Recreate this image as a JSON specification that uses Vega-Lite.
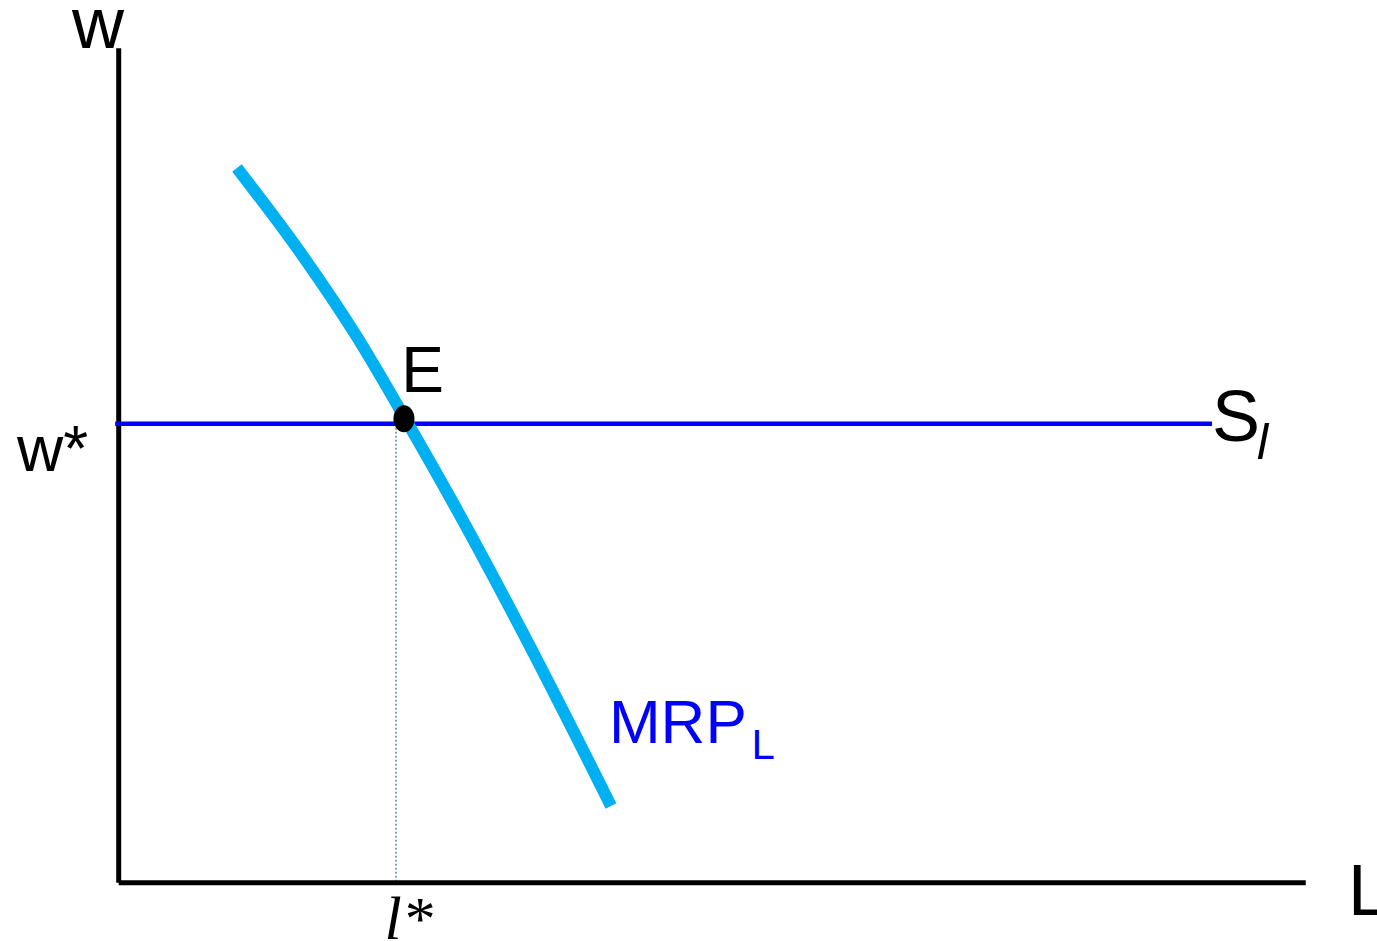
{
  "$schema": "https://vega.github.io/schema/vega-lite/v6.json",
  "width": 1377,
  "height": 941,
  "padding": 0,
  "autosize": {"type": "none"},
  "background": "white",
  "config": {"view": {"stroke": null}, "font": "Liberation Sans"},
  "datasets": {
    "axes": [
      {"x": 0, "y": 0, "x2": 100, "y2": 0},
      {"x": 0, "y": 0, "x2": 0, "y2": 100.2}
    ],
    "supply": [
      {"L": -0.3, "w": 55.1},
      {"L": 92.1, "w": 55.1}
    ],
    "mrp": [
      {"L": 9.96, "w": 85.83},
      {"L": 15.27, "w": 75.74},
      {"L": 20.07, "w": 65.54},
      {"L": 24.2, "w": 55.57},
      {"L": 28.08, "w": 45.84},
      {"L": 33.97, "w": 30.23},
      {"L": 40.12, "w": 13.06},
      {"L": 41.47, "w": 9.21}
    ],
    "guide": [{"L": 23.36, "w": 55.1, "w0": 0}],
    "eq": [{"L": 24.03, "w": 55.7}],
    "big": [
      {"L": -3.93, "w": 100.24, "t": "w"},
      {"L": 92.1, "w": 53.05, "t": "S"},
      {"L": 103.55, "w": -3.88, "t": "L"}
    ],
    "mid": [
      {"L": -8.57, "w": 49.44, "t": "w*"},
      {"L": 23.8, "w": 58.93, "t": "E"}
    ],
    "mrpLabel": [{"L": 41.3, "w": 16.78, "t": "MRP"}],
    "mrpSub": [{"L": 53.3, "w": 14.86, "t": "L"}],
    "sSub": [{"L": 95.9, "w": 50.88, "t": "l"}],
    "lStar": [{"L": 22.4, "w": -6.75, "t": "l*"}]
  },
  "encoding": {
    "x": {"field": "L", "type": "quantitative", "scale": {"domain": [-10, 106], "nice": false, "zero": false}, "axis": null},
    "y": {"field": "w", "type": "quantitative", "scale": {"domain": [-7, 106], "nice": false, "zero": false}, "axis": null}
  },
  "layer": [
    {
      "data": {"name": "guide"},
      "mark": {"type": "rule", "color": "#4a86c8", "strokeWidth": 1.5, "strokeDash": [2, 2]},
      "encoding": {"y2": {"field": "w0"}}
    },
    {
      "data": {"name": "axes"},
      "mark": {"type": "rule", "color": "black", "strokeWidth": 5},
      "encoding": {
        "x": {"field": "x", "type": "quantitative"},
        "y": {"field": "y", "type": "quantitative"},
        "x2": {"field": "x2"},
        "y2": {"field": "y2"}
      }
    },
    {
      "data": {"name": "supply"},
      "mark": {"type": "line", "color": "#0000ff", "strokeWidth": 4.5, "strokeCap": "butt"},
      "encoding": {}
    },
    {
      "data": {"name": "mrp"},
      "mark": {"type": "line", "color": "#00b0f0", "strokeWidth": 12, "strokeCap": "butt", "interpolate": "monotone"},
      "encoding": {}
    },
    {
      "data": {"name": "eq"},
      "mark": {"type": "point", "filled": true, "color": "black", "opacity": 1, "size": 729, "shape": "M-0.78,0A0.78,1,0,1,0,0.78,0A0.78,1,0,1,0,-0.78,0Z"},
      "encoding": {}
    },
    {
      "data": {"name": "big"},
      "mark": {"type": "text", "align": "left", "baseline": "alphabetic", "fontSize": 72, "color": "black"},
      "encoding": {"text": {"field": "t"}}
    },
    {
      "data": {"name": "mid"},
      "mark": {"type": "text", "align": "left", "baseline": "alphabetic", "fontSize": 64, "color": "black"},
      "encoding": {"text": {"field": "t"}}
    },
    {
      "data": {"name": "mrpLabel"},
      "mark": {"type": "text", "align": "left", "baseline": "alphabetic", "fontSize": 62, "color": "#0000ff"},
      "encoding": {"text": {"field": "t"}}
    },
    {
      "data": {"name": "mrpSub"},
      "mark": {"type": "text", "align": "left", "baseline": "alphabetic", "fontSize": 42, "color": "#0000ff"},
      "encoding": {"text": {"field": "t"}}
    },
    {
      "data": {"name": "sSub"},
      "mark": {"type": "text", "align": "left", "baseline": "alphabetic", "fontSize": 50, "fontStyle": "italic", "color": "black"},
      "encoding": {"text": {"field": "t"}}
    },
    {
      "data": {"name": "lStar"},
      "mark": {"type": "text", "align": "left", "baseline": "alphabetic", "fontSize": 62, "font": "Liberation Serif", "fontStyle": "italic", "color": "black"},
      "encoding": {"text": {"field": "t"}}
    }
  ]
}
